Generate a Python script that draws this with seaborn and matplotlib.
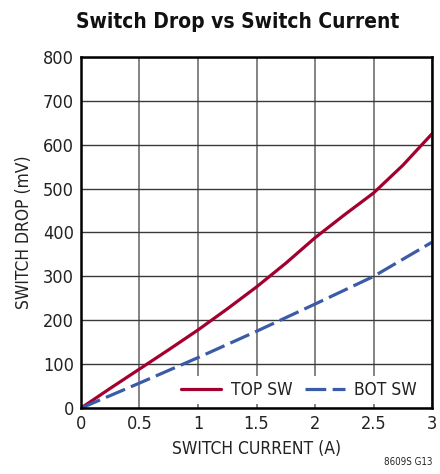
import matplotlib
matplotlib.use("Agg")
import matplotlib.pyplot as plt
import seaborn as sns
import pandas as pd

current_top = [0, 0.25, 0.5, 0.75, 1.0, 1.25, 1.5, 1.75, 2.0, 2.25, 2.5, 2.75, 3.0]
drop_top = [0, 45, 89, 133, 178, 226, 276, 330, 388, 440, 490, 553, 625]
current_bot = [0, 0.5, 1.0, 1.5, 2.0, 2.5, 3.0]
drop_bot = [0, 57, 115, 175, 237, 300, 378]
series_names = ["TOP SW", "BOT SW"]
x_ticks = [0, 0.5, 1, 1.5, 2, 2.5, 3]
x_tick_labels = ["0", "0.5", "1", "1.5", "2", "2.5", "3"]
y_ticks = [0, 100, 200, 300, 400, 500, 600, 700, 800]

df = pd.concat([
    pd.DataFrame({"I": current_top, "V": drop_top, "s": series_names[0]}),
    pd.DataFrame({"I": current_bot, "V": drop_bot, "s": series_names[1]}),
])

sns.set_style("white")
plt.rcParams["font.family"] = ["DejaVu Sans"]
plt.rcParams["font.stretch"] = "condensed"

fig = plt.figure(figsize=(4.4, 4.74), dpi=100)
ax = fig.add_axes([0.184, 0.139, 0.798, 0.741])

palette = {"TOP SW": "#a3002f", "BOT SW": "#3b5ba9"}
sns.lineplot(data=df, x="I", y="V", hue="s", style="s", palette=palette,
             dashes={"TOP SW": "", "BOT SW": (6.5, 2.0)}, linewidth=2.3, ax=ax,
             estimator=None, sort=False, zorder=5)

ax.set_xlim(0, 3)
ax.set_ylim(0, 800)
ax.set_xticks(x_ticks)
ax.set_xticklabels(x_tick_labels)
ax.set_yticks(y_ticks)
ax.grid(True, axis="x", color="#7a7a7a", linewidth=1.3)
ax.grid(True, axis="y", color="#3a3a3a", linewidth=1.0)
ax.tick_params(axis="both", length=0, labelsize=13, pad=5, colors="#222222")
for sp in ax.spines.values():
    sp.set_color("black")
    sp.set_linewidth(1.8)
    sp.set_zorder(6)

ax.set_xlabel("SWITCH CURRENT (A)", fontsize=12.5, color="#222222", labelpad=5)
ax.set_ylabel("SWITCH DROP (mV)", fontsize=12.5, color="#222222", labelpad=7)

leg = ax.legend(loc="center right", bbox_to_anchor=(0.9715, 0.051), ncol=2,
                frameon=True, fontsize=12.5, handlelength=2.3,
                columnspacing=0.7, handletextpad=0.55, borderaxespad=0,
                borderpad=0.3, facecolor="white", edgecolor="white",
                framealpha=1.0)
leg.get_frame().set_linewidth(0)
leg.set_zorder(4)
for t in leg.get_texts():
    t.set_color("#222222")

fig.text(0.54, 0.953, "Switch Drop vs Switch Current", ha="center", va="center",
         fontsize=15, fontweight="bold", color="#111111")
fig.text(0.982, 0.015, "8609S G13", ha="right", va="bottom", fontsize=7,
         color="#222222")

fig.savefig("out.png", dpi=100)
